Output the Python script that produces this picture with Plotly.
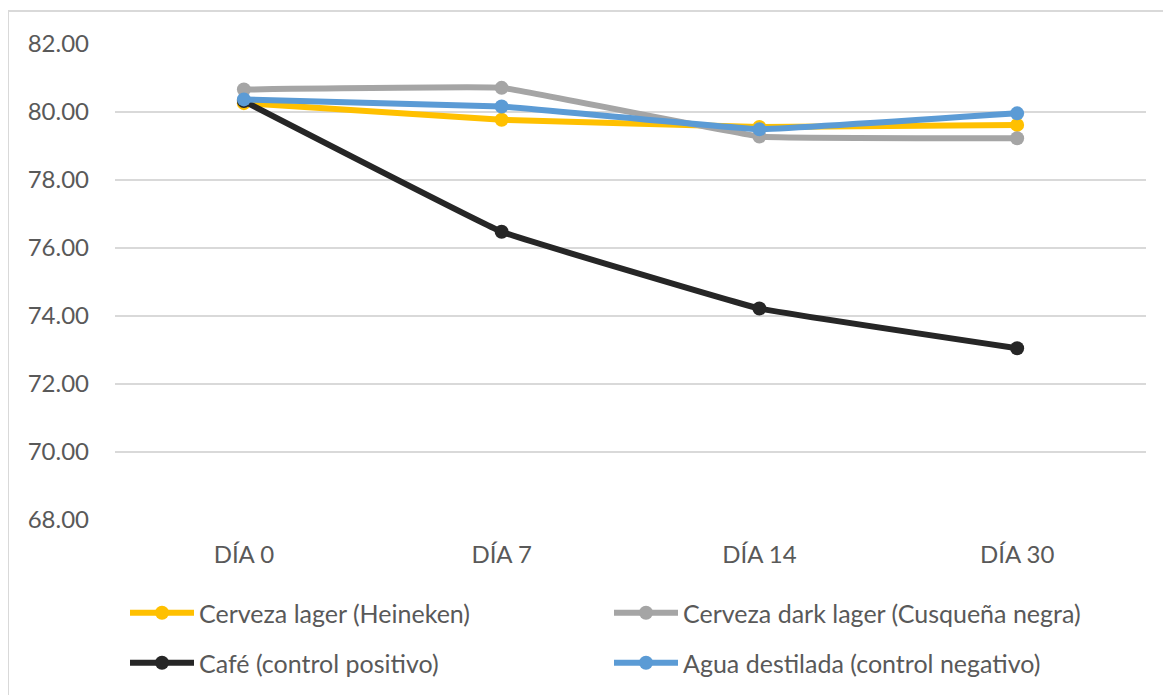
import plotly.graph_objects as go

categories = ["DÍA 0", "DÍA 7", "DÍA 14", "DÍA 30"]
series_names = [
    "Cerveza lager (Heineken)",
    "Cerveza dark lager (Cusqueña negra)",
    "Café (control positivo)",
    "Agua destilada (control negativo)",
]
lager = [80.26, 79.77, 79.56, 79.62]
dark_lager = [80.66, 80.71, 79.28, 79.23]
cafe = [80.32, 76.48, 74.22, 73.05]
agua = [80.37, 80.16, 79.49, 79.96]
y_ticks = [68, 70, 72, 74, 76, 78, 80, 82]

colors = ["#FFC000", "#A5A5A5", "#262626", "#5B9BD5"]
values = [lager, dark_lager, cafe, agua]
legend_of = ["legend", "legend", "legend2", "legend2"]

fig = go.Figure()
for i in range(4):
    fig.add_trace(go.Scatter(
        x=categories, y=values[i], name=series_names[i],
        mode="lines+markers",
        line=dict(color=colors[i], width=6, shape="spline", smoothing=0.2),
        marker=dict(color=colors[i], size=14),
        legend=legend_of[i],
    ))

FONT = "Lato"
TXT = "#595959"
# page has an 8px body margin; figure coords = screen coords - 8
ML, MT = 107, 36
MR = 1171 - (1146 - 8)
MB = 695 - (520 - 8)
PLOT_W = 1171 - ML - MR
PLOT_H = 695 - MT - MB


def leg(ycenter_screen):
    return dict(
        orientation="h", x=10 / PLOT_W, xanchor="left",
        y=(520 - ycenter_screen) / PLOT_H, yanchor="middle",
        entrywidth=405, entrywidthmode="pixels",
        font=dict(family=FONT, size=25, color=TXT),
        itemwidth=64, traceorder="normal", bgcolor="rgba(0,0,0,0)",
    )


fig.update_layout(
    width=1171, height=695,
    margin=dict(l=ML, r=MR, t=MT, b=MB, autoexpand=False),
    paper_bgcolor="white", plot_bgcolor="white",
    font=dict(family=FONT, size=24, color=TXT),
    showlegend=True,
    legend=leg(613),
    legend2=leg(663),
    xaxis=dict(
        type="category", categoryorder="array", categoryarray=categories,
        showgrid=False, showline=False, zeroline=False, ticks="",
        tickfont=dict(family=FONT, size=24, color=TXT),
        range=[-0.5, 3.5], ticklabelstandoff=18,
    ),
    yaxis=dict(
        range=[68, 82], tickvals=y_ticks,
        ticktext=[f"{v:.2f}" for v in y_ticks],
        showgrid=True, gridcolor="#D9D9D9", gridwidth=2,
        zeroline=False, showline=False, ticks="",
        tickfont=dict(family=FONT, size=24, color=TXT),
        ticklabelstandoff=25,
    ),
)
# outer chart border (left and top edges visible)
bx = (8 - 115) / PLOT_W
by = 1 + (44 - 11) / PLOT_H
fig.add_shape(type="line", xref="paper", yref="paper",
              x0=bx, x1=1.2, y0=by, y1=by,
              line=dict(color="#D9D9D9", width=2))
fig.add_shape(type="line", xref="paper", yref="paper",
              x0=bx, x1=bx, y0=-0.5, y1=by,
              line=dict(color="#D9D9D9", width=2))

fig.write_html("out.html")
